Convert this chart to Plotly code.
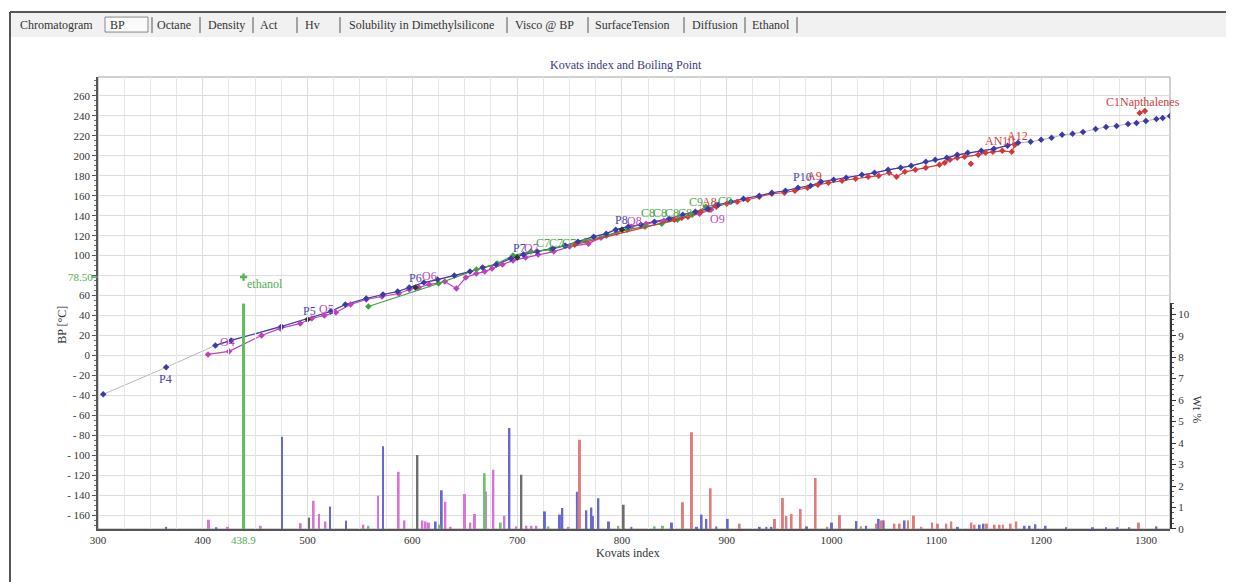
import plotly.graph_objects as go

# ---------------- data ----------------
# Paraffins (blue)
p_ki = [305, 365, 412, 427, 475, 522, 536, 556, 572, 586, 597, 611, 624, 640, 655, 667, 680, 694,
        706, 719, 734, 746, 758, 773, 785, 794, 806, 818, 831, 845, 858, 870, 882, 892, 904, 916,
        931, 943, 956, 968, 980, 990, 1002, 1014, 1029, 1041, 1054, 1066, 1076, 1090, 1099, 1110,
        1120, 1130, 1143, 1155, 1168, 1178, 1190, 1200, 1210, 1220, 1230, 1240, 1252, 1262, 1272,
        1283, 1291, 1300, 1310, 1316, 1323]
p_bp = [-39, -12, 10, 15, 29, 44, 51, 57, 61, 64, 68, 73, 76, 80, 84, 88, 91, 97,
        101, 104, 107, 110, 114, 119, 122, 126, 129, 131, 134, 137, 141, 144, 147, 151, 154, 157,
        160, 163, 165, 168, 170, 174, 176, 178, 181, 183, 186, 188, 190, 194, 196, 198,
        201, 203, 205, 207, 210, 213, 214, 216, 218, 221, 222, 224, 227, 229, 230,
        232, 233, 235, 237, 238, 240]

# n-paraffins (black)
n_ki = [500, 603, 700, 800]
n_bp = [36, 68, 98, 126]

# Olefins (magenta)
o_ki = [405, 425, 456, 474, 493, 504, 516, 527, 541, 556, 571, 587, 597, 606, 616, 631, 642, 651,
        661, 669, 676, 686, 696, 708, 720, 735, 750, 768, 780, 795, 809, 823, 840, 857, 874, 885]
o_bp = [1, 4, 20, 27, 32, 37, 40, 43, 51, 56, 59, 62, 66, 68, 71, 74, 67, 78,
        82, 84, 87, 91, 95, 98, 101, 104, 109, 112, 118, 123, 129, 132, 135, 138, 142, 146]

# Cyclics (green)
c_ki = [558, 625, 661, 681, 696, 713, 732, 745, 765, 785, 805, 822, 838, 853, 867, 880, 890]
c_bp = [49, 72, 86, 92, 100, 104, 106, 110, 115, 120, 126, 129, 132, 136, 141, 149, 151]

# Aromatics (red)
a_ki = [755, 850, 857, 863, 875, 883, 890, 900, 910, 920, 931, 943, 955, 965, 977, 987, 997, 1010,
        1023, 1035, 1045, 1055, 1062, 1070, 1080, 1090, 1103, 1108, 1113, 1120, 1127, 1140, 1147,
        1154, 1163, 1172, 1175]
a_bp = [111, 136, 138, 139, 144, 146, 149, 152, 154, 156, 159, 162, 163, 165, 168, 171, 173, 175,
        177, 179, 180, 183, 179, 184, 186, 188, 191, 193, 196, 198, 199, 201, 203,
        204, 205, 204, 211]
a_out_ki = [1133]
a_out_bp = [192]
naph_ki = [1294, 1299]
naph_bp = [243, 245]

# Ethanol
eth_ki = 438.9
eth_bp = 78.5
eth_wt = 10.5

# Wt% bars
pb_ki = [365, 413, 475.6, 521.4, 536.7, 572, 622.2, 628, 692.6, 726.5, 740.8, 743.1, 757, 766,
         770.8, 772.3, 777.5, 787.6, 809, 847.7, 871.6, 876, 880.5, 890, 900.9, 931.4, 937.8,
         942.6, 976.5, 1000.4, 1023.7, 1033, 1045, 1049.7, 1069.7, 1120.6, 1141.3, 1145,
         1184.3, 1189, 1194.5, 1204.3, 1224, 1249.5, 1262, 1273, 1284, 1310]
pb_wt = [0.1, 0.08, 4.3, 1.05, 0.39, 3.85, 0.35, 1.8, 4.7, 0.82, 0.67, 0.98, 1.74, 0.87,
         1.0, 0.6, 1.43, 0.35, 0.1, 0.3, 0.1, 0.67, 0.47, 0.12, 0.47, 0.1, 0.1,
         0.1, 0.12, 0.3, 0.37, 0.15, 0.47, 0.4, 0.4, 0.1, 0.2, 0.25,
         0.15, 0.15, 0.22, 0.15, 0.08, 0.08, 0.08, 0.08, 0.08, 0.12]
ob_ki = [405.9, 424, 455.3, 493.4, 505.8, 510.9, 517, 553.2, 567.2, 586.9, 592.4, 609.5, 612.7,
         615.8, 631.5, 636.5, 650.2, 655.3, 659.7, 670.2, 677.3, 687.8, 699.2, 708.8, 713.6,
         718.3, 749.1]
ob_wt = [0.43, 0.1, 0.15, 0.27, 1.32, 0.7, 0.35, 0.2, 1.55, 2.67, 0.4, 0.4, 0.35,
         0.3, 1.27, 0.1, 1.63, 0.3, 0.7, 1.75, 2.76, 0.62, 0.12, 0.15, 0.15,
         0.15, 0.1]
cb_ki = [558, 626, 669, 684.3, 729.8, 796.5, 831.2, 839.1]
cb_wt = [0.15, 0.2, 2.6, 0.3, 0.12, 0.15, 0.12, 0.15]
ab_ki = [759.9, 858.2, 866.8, 884.6, 912.3, 946, 953.6, 956.9, 961.9, 970.5, 984.8, 996,
         1008, 1028, 1043, 1048, 1060, 1065, 1073, 1078.6, 1085.7, 1096, 1101.5, 1109.5,
         1114.3, 1133.4, 1136.5, 1148.3, 1155.6, 1160.4, 1163.5, 1170.9, 1176.3, 1293.3]
ab_wt = [4.16, 1.24, 4.5, 1.9, 0.25, 0.47, 1.44, 0.6, 0.7, 0.93, 2.37, 0.1,
         0.65, 0.12, 0.25, 0.4, 0.25, 0.25, 0.4, 0.62, 0.1, 0.3, 0.25, 0.25,
         0.35, 0.3, 0.2, 0.25, 0.2, 0.2, 0.2, 0.25, 0.35, 0.3]
nb_ki = [501.4, 604.8, 704, 801.6]
nb_wt = [0.53, 3.44, 2.53, 1.13]

# Point labels
lab_text = ["P4", "O4", "P5", "O5", "P6", "O6", "P7", "O7", "C7", "C7", "C7",
            "P8", "O8", "C8", "C8", "C8", "C8", "C9", "A8", "C9", "O9", "P10", "A9",
            "AN10", "A12", "C1Napthalenes"]
lab_ki = [364.8, 424, 502, 518, 603, 616.5, 702, 714, 724.6, 737, 749,
          799.4, 812, 824.7, 836, 847.5, 860, 871, 883.7, 898, 891.6, 972.7, 984,
          1160.4, 1177.9, 1297]
lab_bp = [-24, 13, 44, 46, 78, 80, 108, 108, 113, 113, 113,
          136, 134.5, 143, 143, 143, 143, 154, 153.5, 155, 137, 179, 180,
          215, 219.5, 254]
lab_fam = ["P", "O", "P", "O", "P", "O", "P", "O", "C", "C", "C",
           "P", "O", "C", "C", "C", "C", "C", "A", "C", "O", "P", "A",
           "A", "A", "A"]

bp_tick_vals = [-160, -140, -120, -100, -80, -60, -40, -20, 0, 20, 40, 60, 80, 100, 120,
                140, 160, 180, 200, 220, 240, 260]
bp_tick_text = ["- 160", "- 140", "- 120", "- 100", "- 80", "- 60", "- 40", "- 20", "0", "20",
                "40", "60", "", "100", "120", "140", "160", "180", "200", "220", "240", "260"]
wt_tick_vals = [0, 1, 2, 3, 4, 5, 6, 7, 8, 9, 10]

tab_labels = ["Chromatogram", "BP", "Octane", "Density", "Act", "Hv",
              "Solubility in Dimethylsilicone", "Visco @ BP", "SurfaceTension",
              "Diffusion", "Ethanol"]

# ---------------- styling ----------------
BLUE = "#3a3aa8"
MAG = "#c040c0"
GRN = "#3fa03f"
RED = "#d23a3a"
BLK = "#333333"
fam_color = {"P": "#4444b0", "O": "#b84cb8", "C": "#4aa84a", "A": "#cc4040"}
SERIF = "Liberation Serif, Times New Roman, serif"

OFF = 8                      # page body margin
W, H = 1234 - OFF, 582 - OFF
ML, MR, MT, MB = 98 - OFF, 64, 77 - OFF, 52.5
PW = W - ML - MR
PH = H - MT - MB


def pxx(px):
    return (px - OFF - ML) / PW


def pxy(py):
    return (H - MB - (py - OFF)) / PH


fig = go.Figure()

fig.add_trace(go.Scatter(x=p_ki, y=p_bp, mode="lines",
                         line=dict(color="#b8b8b8", width=1), hoverinfo="skip"))
run_ki = [k for k in p_ki if 405 <= k <= 1180]
run_bp = [b for k, b in zip(p_ki, p_bp) if 405 <= k <= 1180]
fig.add_trace(go.Scatter(x=run_ki, y=run_bp, mode="lines",
                         line=dict(color=BLUE, width=1.2), hoverinfo="skip"))
fig.add_trace(go.Scatter(x=o_ki, y=o_bp, mode="lines+markers",
                         line=dict(color=MAG, width=1.2),
                         marker=dict(symbol="diamond", size=5, color=MAG)))
fig.add_trace(go.Scatter(x=c_ki, y=c_bp, mode="lines+markers",
                         line=dict(color=GRN, width=1.2),
                         marker=dict(symbol="diamond", size=5, color=GRN)))
fig.add_trace(go.Scatter(x=a_ki, y=a_bp, mode="lines+markers",
                         line=dict(color=RED, width=1.2),
                         marker=dict(symbol="diamond", size=5, color=RED)))
fig.add_trace(go.Scatter(x=a_out_ki, y=a_out_bp, mode="markers",
                         marker=dict(symbol="diamond", size=5, color=RED)))
fig.add_trace(go.Scatter(x=naph_ki, y=naph_bp, mode="lines+markers",
                         line=dict(color=RED, width=1.2),
                         marker=dict(symbol="diamond", size=5, color=RED)))
fig.add_trace(go.Scatter(x=p_ki, y=p_bp, mode="markers",
                         marker=dict(symbol="diamond", size=5, color=BLUE)))
fig.add_trace(go.Scatter(x=n_ki, y=n_bp, mode="markers",
                         marker=dict(symbol="diamond", size=5, color=BLK)))
fig.add_trace(go.Scatter(x=[eth_ki], y=[eth_bp], mode="markers",
                         marker=dict(symbol="cross", size=6, color="#50b850")))

for kk, ww, col in [(pb_ki, pb_wt, "#6868d4"), (ob_ki, ob_wt, "#d874d8"),
                    (cb_ki, cb_wt, "#6cc46c"), (ab_ki, ab_wt, "#e27c7c"),
                    (nb_ki, nb_wt, "#6e6e6e")]:
    fig.add_trace(go.Bar(x=kk, y=ww, width=1.9, xaxis="x", yaxis="y2",
                         marker=dict(color=col, line=dict(width=0))))
fig.add_trace(go.Bar(x=[eth_ki], y=[eth_wt], width=2.9, xaxis="x", yaxis="y2",
                     marker=dict(color="#5cc05c", line=dict(width=0))))


def ann(**kw):
    d = dict(showarrow=False, xanchor="center", yanchor="middle")
    d.update(kw)
    return d


annotations = []
for t, k, b, f in zip(lab_text, lab_ki, lab_bp, lab_fam):
    annotations.append(ann(x=k, y=b, xref="x", yref="y", text=t,
                           font=dict(family=SERIF, size=12, color=fam_color[f])))
annotations.append(ann(x=eth_ki + 1.5, y=72, xref="x", yref="y", text="ethanol",
                       xanchor="left", font=dict(family=SERIF, size=12, color="#50b050")))
annotations.append(ann(x=0, y=eth_bp, xref="paper", yref="y", text="78.50",
                       xanchor="right", xshift=-3,
                       font=dict(family=SERIF, size=11, color="#50b050")))
annotations.append(ann(x=eth_ki, y=0, xref="x", yref="paper", text="438.9",
                       yanchor="top", yshift=-3,
                       font=dict(family=SERIF, size=11, color="#50b050")))
annotations.append(ann(x=pxx(626), y=pxy(65), xref="paper", yref="paper",
                       text="Kovats index and Boiling Point",
                       font=dict(family=SERIF, size=12, color="#3a3a80")))
annotations.append(ann(x=pxx(628), y=pxy(554), xref="paper", yref="paper",
                       text="Kovats index", font=dict(family=SERIF, size=12, color="#333")))
annotations.append(ann(x=pxx(62), y=pxy(325), xref="paper", yref="paper",
                       text="BP [°C]", textangle=-90,
                       font=dict(family=SERIF, size=12, color="#333")))
annotations.append(ann(x=pxx(1197), y=pxy(410), xref="paper", yref="paper",
                       text="Wt %", textangle=90,
                       font=dict(family=SERIF, size=12, color="#333")))

tab_x = [18, 108, 155, 206, 258, 303, 347, 513, 593, 690, 750]
for t, x0 in zip(tab_labels, tab_x):
    annotations.append(ann(x=pxx(x0), y=pxy(25), xref="paper", yref="paper", text=t,
                           xanchor="left", font=dict(family=SERIF, size=12, color="#333")))

shapes = [
    dict(type="rect", xref="paper", yref="paper", x0=pxx(10), x1=pxx(1240), y0=pxy(12),
         y1=pxy(37), fillcolor="#f1f1f1", line=dict(width=0), layer="below"),
    dict(type="line", xref="paper", yref="paper", x0=pxx(10), x1=pxx(1240), y0=pxy(12),
         y1=pxy(12), line=dict(color="#555", width=2)),
    dict(type="line", xref="paper", yref="paper", x0=pxx(10), x1=pxx(10), y0=pxy(12),
         y1=pxy(590), line=dict(color="#555", width=2)),
    dict(type="rect", xref="paper", yref="paper", x0=pxx(105), x1=pxx(148), y0=pxy(17),
         y1=pxy(32), fillcolor="#fafafa", line=dict(color="#888", width=1), layer="below"),
    dict(type="rect", xref="paper", yref="paper", x0=0, x1=1, y0=0, y1=1,
         line=dict(color="#a0a0a0", width=1), layer="below"),
    dict(type="line", xref="paper", yref="y", x0=-0.006, x1=0, y0=eth_bp, y1=eth_bp,
         line=dict(color="#50b050", width=1.5)),
]
for sx in [152, 200, 253, 297, 340, 507, 588, 684, 745, 797]:
    shapes.append(dict(type="line", xref="paper", yref="paper", x0=pxx(sx), x1=pxx(sx),
                       y0=pxy(17), y1=pxy(33), line=dict(color="#555", width=1)))

tickfont = dict(family=SERIF, size=11, color="#333")
fig.update_layout(
    width=W, height=H,
    margin=dict(l=ML, r=MR, t=MT, b=MB, pad=0),
    paper_bgcolor="white", plot_bgcolor="rgba(0,0,0,0)",
    showlegend=False, barmode="overlay",
    xaxis=dict(range=[300, 1323], tick0=300, dtick=100, showgrid=True, gridcolor="#dcdcdc",
               ticks="inside", ticklen=4, tickcolor="#555", showline=True, linecolor="#555",
               linewidth=1.5, zeroline=False, tickfont=tickfont, anchor="y",
               minor=dict(tick0=300, dtick=25, showgrid=True, gridcolor="#e6e6e6",
                          ticks="inside", ticklen=2, tickcolor="#777")),
    yaxis=dict(range=[-174, 279], tickmode="array", tickvals=bp_tick_vals,
               ticktext=bp_tick_text, showgrid=True, gridcolor="#dcdcdc", ticks="outside",
               ticklen=4, tickcolor="#555", showline=True, linecolor="#555", linewidth=1.5,
               zeroline=False, tickfont=tickfont, domain=[0, 1],
               minor=dict(tickmode="linear", tick0=0, dtick=5, ticks="outside", ticklen=2,
                          tickcolor="#777", showgrid=False)),
    yaxis2=dict(domain=[0, pxy(303.5)], range=[0, 10.51], anchor="x", side="right",
                tickmode="array", tickvals=wt_tick_vals, showgrid=False, zeroline=False,
                showline=True, linecolor="#333", linewidth=2, ticks="outside", ticklen=4,
                tickcolor="#333", tickfont=tickfont,
                minor=dict(tickmode="linear", tick0=0, dtick=0.25, ticks="outside",
                           ticklen=2, tickcolor="#555", showgrid=False)),
    annotations=annotations,
    shapes=shapes,
)

fig.write_html("out.html")
